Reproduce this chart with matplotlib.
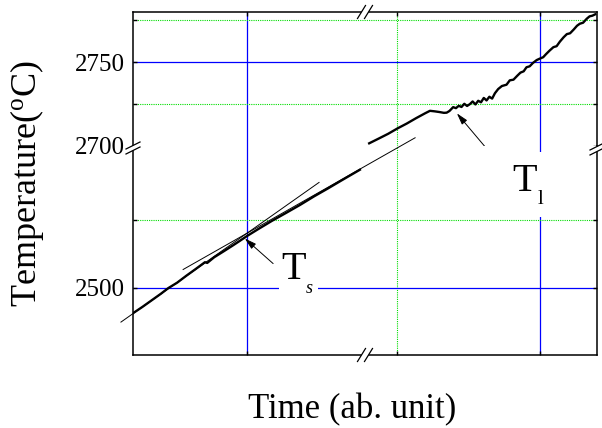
import matplotlib.pyplot as plt
from matplotlib.lines import Line2D
from matplotlib.patches import Polygon, Rectangle

plt.rcParams['font.family'] = 'Liberation Serif'
plt.rcParams['mathtext.fontset'] = 'custom'
plt.rcParams['mathtext.rm'] = 'Liberation Serif'
plt.rcParams['mathtext.it'] = 'Liberation Serif:italic'

## data (time in ab. units, temperature in C)
t_low = [0.00, 0.20, 0.40, 0.60, 0.76, 0.95, 1.15, 1.34, 1.55, 1.60, 1.75, 1.95,
         2.15, 2.30, 2.46, 2.70, 3.00, 3.30, 3.60, 3.90, 4.20, 4.50, 4.70, 4.89]
T_low = [2481.0, 2485.6, 2490.5, 2495.4, 2499.6, 2503.6, 2508.8, 2513.5, 2518.8,
         2518.3, 2522.5, 2526.8, 2531.2, 2534.6, 2538.3, 2543.4, 2549.6, 2555.4,
         2561.3, 2567.6, 2573.5, 2579.6, 2583.6, 2587.4]

t_up = [5.09, 5.30, 5.50, 5.70, 5.90, 6.10, 6.30, 6.40, 6.50, 6.60, 6.70, 6.76,
        6.82, 6.90, 6.96, 7.02, 7.08, 7.14, 7.20, 7.26, 7.32, 7.38, 7.44, 7.50,
        7.56, 7.62, 7.68, 7.74, 7.80, 7.87, 7.95, 8.05, 8.12, 8.20, 8.28, 8.35,
        8.42, 8.48, 8.55, 8.62, 8.70, 8.77, 8.84, 8.90, 8.98, 9.06, 9.13, 9.20,
        9.28, 9.35, 9.42, 9.50, 9.57, 9.63, 9.70, 9.78, 9.84, 9.90, 9.96]
T_up = [2701.6, 2704.5, 2707.3, 2710.5, 2713.4, 2716.6, 2719.6, 2721.0, 2720.7,
        2720.3, 2719.8, 2719.9, 2720.9, 2723.2, 2722.6, 2724.0, 2723.3, 2725.2,
        2723.9, 2725.0, 2726.6, 2724.8, 2727.0, 2726.1, 2728.7, 2727.2, 2729.4,
        2728.3, 2731.5, 2734.0, 2735.8, 2736.6, 2739.2, 2739.6, 2741.9, 2743.8,
        2744.6, 2747.0, 2747.6, 2749.6, 2751.3, 2752.2, 2753.0, 2754.8, 2757.0,
        2759.0, 2759.6, 2762.3, 2764.9, 2766.8, 2767.3, 2769.6, 2771.8, 2773.0,
        2773.6, 2776.0, 2777.4, 2777.8, 2778.6]

# tangent lines (solid -> liquid change of slope)
tan_a_t = [-0.26, 4.01]
tan_a_T = [2474.4, 2578.0]
tan_b_t = [1.08, 6.08]
tan_b_T = [2513.4, 2611.1]

Ts_tip = (2.41, 2536.4)
Ts_tail = (3.02, 2517.8)
Tl_tip = (6.98, 2719.5)
Tl_tail = (7.89, 2592.1)

vblue = [2.46, 8.77]
vgreen = [5.69]
up_blue, up_green = [2750], [2725, 2775]
lo_blue, lo_green = [2500], [2550]

#%% figure
W, H = 602, 428
fig = plt.figure(figsize=(W/100, H/100), dpi=100)
left, right, top, split, bottom = 133, 597, 12, 146, 355
ax_up = fig.add_axes([left/W, 1-split/H, (right-left)/W, (split-top)/H])
ax_lo = fig.add_axes([left/W, 1-bottom/H, (right-left)/W, (bottom-split)/H])

ax_up.set_xlim(0, 10)
ax_lo.set_xlim(0, 10)
ax_up.set_ylim(2700, 2780)
ax_lo.set_ylim(2450, 2605)

for ax in (ax_up, ax_lo):
    for s in ax.spines.values():
        s.set_linewidth(1.1)
    for x in vblue:
        ax.axvline(x, color='#0000ff', lw=0.9, zorder=1)
    for x in vgreen:
        ax.axvline(x, color='#00dd00', lw=0.8, ls=(0, (1, 1)), zorder=1)
    ax.set_xticks(vblue[:1] + vgreen + vblue[1:])
    ax.tick_params(axis='both', which='both', direction='in', length=3, width=1.0,
                   labelsize=18, pad=6, labelbottom=False)
    ax.tick_params(axis='y', which='both', left=True, right=True)

ax_up.spines['bottom'].set_visible(False)
ax_lo.spines['top'].set_visible(False)
ax_up.tick_params(axis='x', top=True, bottom=False)
ax_lo.tick_params(axis='x', top=False, bottom=True)

ax_up.set_yticks([2700, 2750])
ax_up.set_yticks([2725, 2775], minor=True)
ax_lo.set_yticks([2500])
ax_lo.set_yticks([2550], minor=True)

for y in up_blue:
    ax_up.axhline(y, color='#0000ff', lw=0.9, zorder=1)
for y in up_green:
    ax_up.axhline(y, color='#00dd00', lw=0.8, ls=(0, (1, 1)), zorder=1)
for y in lo_blue:
    ax_lo.axhline(y, color='#0000ff', lw=0.9, zorder=1)
for y in lo_green:
    ax_lo.axhline(y, color='#00dd00', lw=0.8, ls=(0, (1, 1)), zorder=1)

# data
ax_lo.plot(t_low, T_low, color='black', lw=1.7, zorder=4)
ax_up.plot(t_up, T_up, color='black', lw=1.7, zorder=4)
ax_lo.plot(tan_a_t, tan_a_T, color='black', lw=0.7, clip_on=False, zorder=4)
ax_lo.plot(tan_b_t, tan_b_T, color='black', lw=0.7, clip_on=False, zorder=4)

# white boxes behind labels (cut the grid lines)
ax_lo.add_patch(Rectangle((3.15, 2494), 0.84, 33, fc='white', ec='none', zorder=2))
ax_lo.add_patch(Rectangle((8.06, 2552.2), 0.84, 48.3, fc='white', ec='none', zorder=2))

ax_lo.text(3.19, 2506.7, 'T', fontsize=29, ha='left', va='baseline', zorder=5)
ax_lo.text(3.72, 2495.8, 's', fontsize=13, style='italic', ha='left', va='baseline', zorder=5)
ax_lo.text(8.17, 2571.5, 'T', fontsize=29, ha='left', va='baseline', zorder=5)
ax_lo.text(8.71, 2561.9, 'l', fontsize=15, ha='left', va='baseline', zorder=5)

arr = dict(arrowstyle='-|>,head_length=0.7,head_width=0.2', color='black', lw=0.7,
           mutation_scale=10, shrinkA=0, shrinkB=0)
ax_lo.annotate('', xy=Ts_tip, xytext=Ts_tail, arrowprops=arr, zorder=5)
ax_up.annotate('', xy=Tl_tip, xytext=Tl_tail, textcoords=ax_lo.transData,
               arrowprops=arr, zorder=5)

fig.text(27/W, 1-184/H, r'Temperature($^{\rm o}$C)', rotation=90, ha='center',
         va='center', fontsize=26)
fig.text(352/W, 1-410/H, 'Time (ab. unit)', ha='center', va='center', fontsize=25)


# axis break marks, given in pixels
def brk(cx, cy, dx, dy, ox, oy):
    p = lambda x, y: (x/W, 1-y/H)
    a0, a1 = (cx-ox/2-dx, cy-oy/2+dy), (cx-ox/2+dx, cy-oy/2-dy)
    b0, b1 = (cx+ox/2-dx, cy+oy/2+dy), (cx+ox/2+dx, cy+oy/2-dy)
    fig.add_artist(Polygon([p(*a0), p(*a1), p(*b1), p(*b0)], closed=True,
                           fc='white', ec='none', transform=fig.transFigure, zorder=6))
    for u, v in ((a0, a1), (b0, b1)):
        fig.add_artist(Line2D([p(*u)[0], p(*v)[0]], [p(*u)[1], p(*v)[1]],
                              color='black', lw=0.9, transform=fig.transFigure, zorder=7))


brk(133, 148, 7, 3.5, 0, 5)
brk(597, 149, 7, 3.5, 0, 5)
brk(365, 12, 4, 6.5, 7, 0)
brk(365, 355, 4, 6.5, 7, 0)

fig.savefig('out.png', dpi=100)
